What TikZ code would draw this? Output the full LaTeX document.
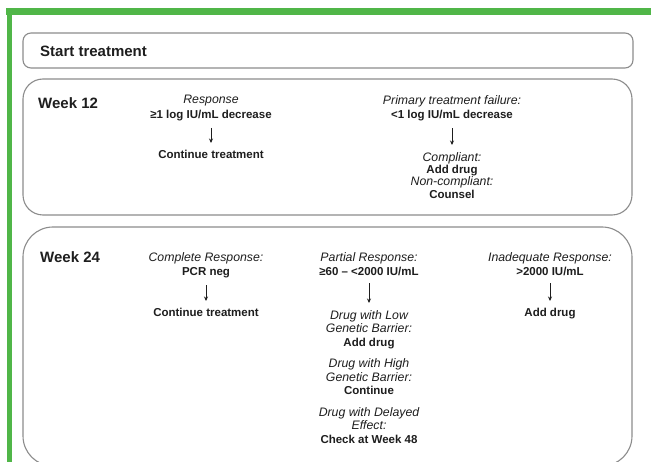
\documentclass[tikz,border=0pt]{standalone}
\usepackage{fontspec}
\setmainfont{Liberation Sans}
\usetikzlibrary{arrows.meta}

\definecolor{framegreen}{RGB}{80,182,72}
\definecolor{boxgray}{RGB}{140,140,140}
\definecolor{txt}{RGB}{30,30,30}
\newcommand{\ilab}[1]{{\fontsize{12.3}{13.5}\selectfont\mdseries\itshape #1}}

\begin{document}
\begin{tikzpicture}[x=1pt,y=-1pt,
  panel/.style={draw=boxgray,line width=1.1pt,fill=white},
  lbl/.style={align=center,anchor=north,inner sep=0pt,text=txt,font=\fontsize{11.5}{13.5}\selectfont\bfseries},
  week/.style={anchor=west,inner sep=0pt,text=txt,font=\fontsize{15}{18}\selectfont\bfseries},
  arr/.style={-{Stealth[length=4.5pt,width=4pt]},line width=0.7pt,draw=txt,shorten <=7pt,shorten >=7pt}]
\useasboundingbox (0,0) rectangle (651,462);

% green frame
\fill[framegreen] (6,8) rectangle (651,15);
\fill[framegreen] (7,8) rectangle (12,462);

% panels
\draw[panel,rounded corners=8pt] (23,33) rectangle (633,68);
\draw[panel,rounded corners=20pt] (23,79) rectangle (632,215);
\draw[panel,rounded corners=30pt] (23,227) rectangle (632,466);

\node[week] (start) at (40,51) {Start treatment};
\node[week] (wk12) at (38,103) {Week 12};
\node[week] (wk24) at (40,257) {Week 24};

% week 12
\node[lbl] (resp12) at (211,95) {\ilab{Response}\\[1pt]≥1 log IU/mL decrease};
\node[lbl] (cont12) at (211,150) {Continue treatment};
\node[lbl] (fail12) at (452,95) {\ilab{Primary treatment failure:}\\[1pt]<1 log IU/mL decrease};
\node[lbl,font=\fontsize{11.5}{12.3}\selectfont\bfseries] (act12) at (452,152)
  {\ilab{Compliant:}\\Add drug\\\ilab{Non-compliant:}\\Counsel};
\draw[arr] (resp12) -- (cont12);
\draw[arr] (fail12) -- (act12);

% week 24
\node[lbl] (comp24) at (206,252) {\ilab{Complete Response:}\\[1pt]PCR neg};
\node[lbl] (cont24) at (206,308) {Continue treatment};
\node[lbl] (part24) at (369,252) {\ilab{Partial Response:}\\[1pt]≥60 – <2000 IU/mL};
\node[lbl] (drug24) at (369,310)
  {\ilab{Drug with Low}\\\ilab{Genetic Barrier:}\\Add drug\\[8pt]
   \ilab{Drug with High}\\\ilab{Genetic Barrier:}\\Continue\\[8pt]
   \ilab{Drug with Delayed}\\\ilab{Effect:}\\Check at Week 48};
\node[lbl] (inad24) at (550,252) {\ilab{Inadequate Response:}\\[1pt]>2000 IU/mL};
\node[lbl] (add24) at (550,308) {Add drug};
\draw[arr] (comp24) -- (cont24);
\draw[arr] (part24) -- (drug24);
\draw[arr] (inad24) -- (add24);
\end{tikzpicture}
\end{document}
